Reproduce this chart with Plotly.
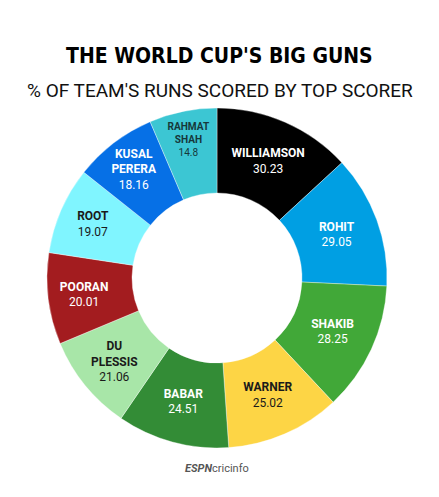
import plotly.graph_objects as go

players = ["WILLIAMSON", "ROHIT", "SHAKIB", "WARNER", "BABAR",
           "DU<br>PLESSIS", "POORAN", "ROOT", "KUSAL<br>PERERA", "RAHMAT<br>SHAH"]
share = [30.23, 29.05, 28.25, 25.02, 24.51, 21.06, 20.01, 19.07, 18.16, 14.8]
colors = ["#000000", "#009fe3", "#41a838", "#fdd545", "#338c36",
          "#a8e6a8", "#a31c1f", "#80f5ff", "#0670e6", "#3cc6d3"]
text_colors = ["#ffffff", "#ffffff", "#ffffff", "#1a1a1a", "#ffffff",
               "#1a1a1a", "#ffffff", "#1a1a1a", "#ffffff", "#16383a"]

W, H = 439, 497
cx0, cx1 = 47, 387
cy0, cy1 = 108, 448

fig = go.Figure(go.Pie(
    labels=players,
    values=share,
    text=[str(v) for v in share],
    texttemplate="<b>%{label}</b><br>%{text}",
    textinfo="text",
    textposition="inside",
    insidetextorientation="horizontal",
    sort=False,
    direction="clockwise",
    rotation=0,
    hole=0.5,
    marker=dict(colors=colors, line=dict(color="rgba(255,255,255,0.6)", width=0.6)),
    textfont=dict(family="Roboto", size=12, color=text_colors),
    domain=dict(x=[cx0 / W, cx1 / W], y=[1 - cy1 / H, 1 - cy0 / H]),
    showlegend=False,
))

fig.update_layout(
    width=W, height=H,
    margin=dict(l=0, r=0, t=0, b=0),
    paper_bgcolor="white",
    plot_bgcolor="white",
    annotations=[
        dict(text="<b>THE WORLD CUP'S BIG GUNS</b>", x=0.5, y=1 - 56 / H,
             xref="paper", yref="paper", showarrow=False,
             font=dict(family="DejaVu Sans Condensed", size=21, color="#000000"),
             xanchor="center", yanchor="middle"),
        dict(text="% OF TEAM'S RUNS SCORED BY TOP SCORER", x=0.5, y=1 - 91 / H,
             xref="paper", yref="paper", showarrow=False,
             font=dict(family="Roboto", size=19, color="#111111"),
             xanchor="center", yanchor="middle"),
        dict(text="<b><i>ESPN</i></b>cricinfo", x=217 / W, y=1 - 468 / H,
             xref="paper", yref="paper", showarrow=False,
             font=dict(family="Roboto", size=11, color="#555555"),
             xanchor="center", yanchor="middle"),
    ],
)

fig.write_html("out.html")
